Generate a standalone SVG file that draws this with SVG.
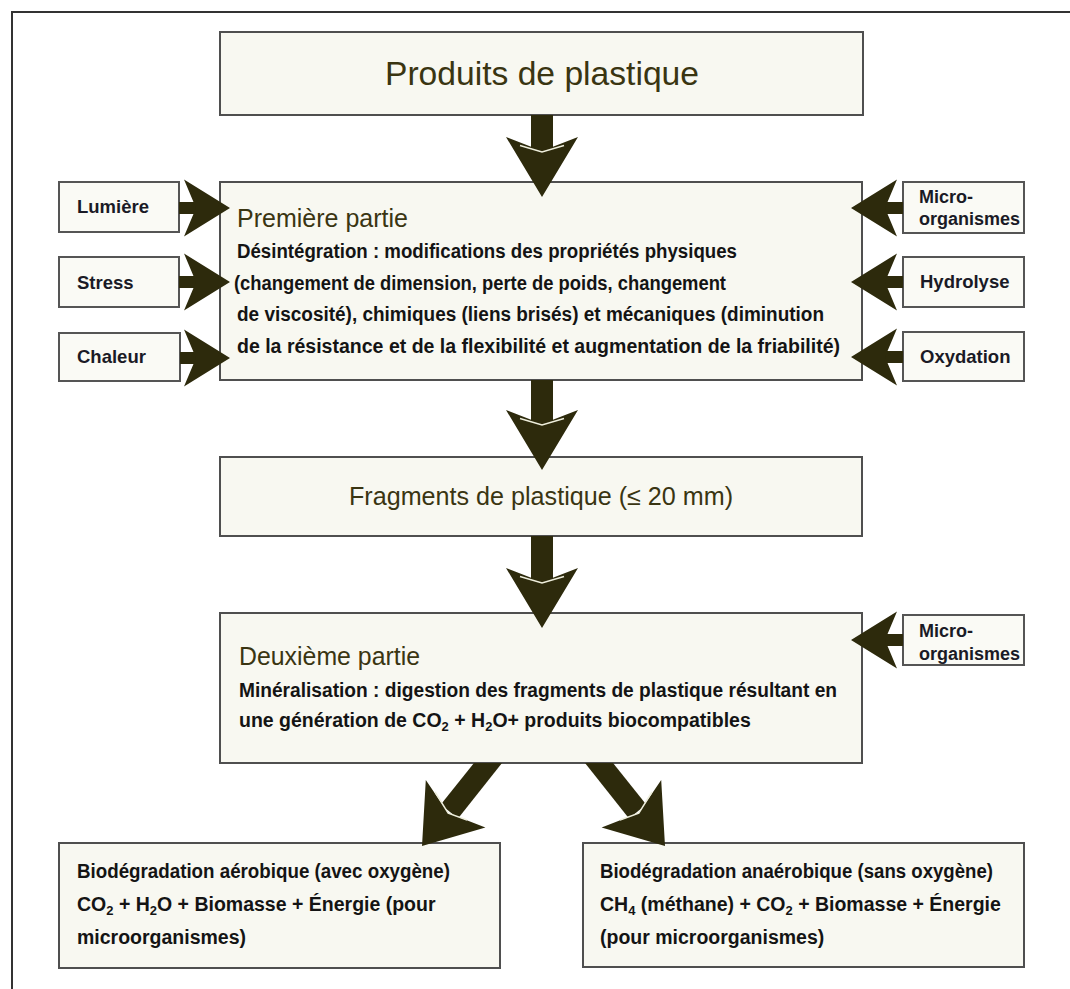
<svg xmlns="http://www.w3.org/2000/svg" xmlns:xlink="http://www.w3.org/1999/xlink" width="1070" height="989" viewBox="0 0 1070 989">
<style>
.box{fill:#f8f8f1;stroke:#4f4f4f;stroke-width:2}
.lbl{fill:#fafaf5;stroke:#555;stroke-width:2}
.ttl{font-family:"Liberation Sans",Arial,sans-serif;fill:#3a3512}
.b{font-family:"Liberation Sans",Arial,sans-serif;font-weight:bold;fill:#141414;font-size:19.5px}
.s{font-family:"Liberation Sans",Arial,sans-serif;font-weight:bold;fill:#1a1a26;font-size:18.5px}
.m{font-family:"Liberation Sans",Arial,sans-serif;font-weight:bold;fill:#1a1a26;font-size:18px}
.ar{fill:#2d2a0c}
.gl{fill:none;stroke:#eeeedc;stroke-width:1.5}
</style>
<defs>
<path id="vh" d="M-36,-60 L0,-46 L36,-60 L0,0 Z"/>
<path id="sh" d="M-46,-28.5 L-34,0 L-46,28.5 L0,0 Z"/>
</defs>
<rect width="1070" height="989" fill="#ffffff"/>
<path d="M12,989 L12,12 L1070,12" fill="none" stroke="#333" stroke-width="2"/>

<g id="produits">
<rect class="box" x="220" y="32" width="643" height="83"/>
<text class="ttl" x="542" y="85" font-size="34" text-anchor="middle" textLength="314" lengthAdjust="spacingAndGlyphs">Produits de plastique</text>
</g>

<g id="premiere">
<rect class="box" x="220" y="182" width="642" height="198"/>
<text class="ttl" x="237" y="227" font-size="25.5" textLength="171" lengthAdjust="spacingAndGlyphs">Première partie</text>
<text class="b" x="237" y="258" textLength="500" lengthAdjust="spacingAndGlyphs">Désintégration : modifications des propriétés physiques</text>
<text class="b" x="234" y="290" textLength="492" lengthAdjust="spacingAndGlyphs">(changement de dimension, perte de poids, changement</text>
<text class="b" x="237" y="321" textLength="587" lengthAdjust="spacingAndGlyphs">de viscosité), chimiques (liens brisés) et mécaniques (diminution</text>
<text class="b" x="237" y="353" textLength="603" lengthAdjust="spacingAndGlyphs">de la résistance et de la flexibilité et augmentation de la friabilité)</text>
</g>

<g id="lumiere">
<rect class="lbl" x="59" y="182" width="120" height="50"/>
<text class="s" x="77" y="213">Lumière</text>
</g>
<g id="stress">
<rect class="lbl" x="59" y="257" width="120" height="50"/>
<text class="s" x="77" y="289">Stress</text>
</g>
<g id="chaleur">
<rect class="lbl" x="59" y="333" width="121" height="48"/>
<text class="s" x="77" y="363">Chaleur</text>
</g>
<g id="microorganismes1">
<rect class="lbl" x="903" y="182" width="121" height="51"/>
<text class="m" x="919" y="203">Micro-</text>
<text class="m" x="919" y="225" textLength="101" lengthAdjust="spacingAndGlyphs">organismes</text>
</g>
<g id="hydrolyse">
<rect class="lbl" x="903" y="257" width="121" height="50"/>
<text class="s" x="920" y="288">Hydrolyse</text>
</g>
<g id="oxydation">
<rect class="lbl" x="903" y="332" width="121" height="49"/>
<text class="s" x="920" y="363">Oxydation</text>
</g>

<g id="fragments">
<rect class="box" x="220" y="457" width="642" height="79"/>
<text class="ttl" x="541" y="505" font-size="25.5" text-anchor="middle" textLength="384" lengthAdjust="spacingAndGlyphs">Fragments de plastique (≤ 20 mm)</text>
</g>

<g id="deuxieme">
<rect class="box" x="220" y="613" width="642" height="150"/>
<text class="ttl" x="239" y="665" font-size="25.5" textLength="181" lengthAdjust="spacingAndGlyphs">Deuxième partie</text>
<text class="b" x="239" y="697" textLength="598" lengthAdjust="spacingAndGlyphs">Minéralisation : digestion des fragments de plastique résultant en</text>
<text class="b" x="239" y="727">une génération de CO<tspan font-size="13" dy="4">2</tspan><tspan dy="-4"> + H</tspan><tspan font-size="13" dy="4">2</tspan><tspan dy="-4">O+ produits biocompatibles</tspan></text>
</g>
<g id="microorganismes2">
<rect class="lbl" x="903" y="615" width="121" height="50"/>
<text class="m" x="919" y="637">Micro-</text>
<text class="m" x="919" y="660" textLength="101" lengthAdjust="spacingAndGlyphs">organismes</text>
</g>

<g id="aerobie">
<rect class="box" x="59" y="843" width="441" height="125"/>
<text class="b" x="77" y="878" font-size="19" textLength="373" lengthAdjust="spacingAndGlyphs">Biodégradation aérobique (avec oxygène)</text>
<text class="b" x="77" y="911" font-size="19">CO<tspan font-size="13" dy="4">2</tspan><tspan dy="-4"> + H</tspan><tspan font-size="13" dy="4">2</tspan><tspan dy="-4">O + Biomasse + Énergie (pour</tspan></text>
<text class="b" x="77" y="944" font-size="19">microorganismes)</text>
</g>

<g id="anaerobie">
<rect class="box" x="583" y="843" width="441" height="124"/>
<text class="b" x="600" y="878" font-size="19" textLength="393" lengthAdjust="spacingAndGlyphs">Biodégradation anaérobique (sans oxygène)</text>
<text class="b" x="600" y="911" font-size="19">CH<tspan font-size="13" dy="4">4</tspan><tspan dy="-4"> (méthane) + CO</tspan><tspan font-size="13" dy="4">2</tspan><tspan dy="-4"> + Biomasse + Énergie</tspan></text>
<text class="b" x="600" y="944" font-size="19">(pour microorganismes)</text>
</g>

<g id="connectors">
<rect class="ar" x="531" y="115" width="22" height="38"/>
<use href="#vh" xlink:href="#vh" class="ar" transform="translate(542,197)"/>
<polyline class="gl" points="520,145.5 542,152 564,145.5"/>
<rect class="ar" x="531" y="380" width="22" height="46"/>
<use href="#vh" xlink:href="#vh" class="ar" transform="translate(542,470)"/>
<polyline class="gl" points="520,418.5 542,425 564,418.5"/>
<rect class="ar" x="531" y="536" width="22" height="48"/>
<use href="#vh" xlink:href="#vh" class="ar" transform="translate(542,628)"/>
<polyline class="gl" points="520,576.5 542,583 564,576.5"/>
<rect class="ar" x="179" y="202" width="20" height="12"/>
<use href="#sh" xlink:href="#sh" class="ar" transform="translate(230,208)"/>
<rect class="ar" x="179" y="276" width="20" height="12"/>
<use href="#sh" xlink:href="#sh" class="ar" transform="translate(230,282)"/>
<rect class="ar" x="180" y="352" width="19" height="12"/>
<use href="#sh" xlink:href="#sh" class="ar" transform="translate(230,358)"/>
<rect class="ar" x="883" y="202" width="20" height="12"/>
<use href="#sh" xlink:href="#sh" class="ar" transform="translate(851,208) scale(-1,1)"/>
<rect class="ar" x="883" y="276" width="20" height="12"/>
<use href="#sh" xlink:href="#sh" class="ar" transform="translate(851,282) scale(-1,1)"/>
<rect class="ar" x="883" y="351" width="20" height="12"/>
<use href="#sh" xlink:href="#sh" class="ar" transform="translate(851,357) scale(-1,1)"/>
<rect class="ar" x="883" y="634" width="20" height="12"/>
<use href="#sh" xlink:href="#sh" class="ar" transform="translate(851,640) scale(-1,1)"/>
<polygon class="ar" points="474,763 502,763 458,818.4 440.8,804.6"/>
<polygon class="ar" points="422,846 485.4,827.4 448.2,813.1 425.8,780"/>
<polyline class="gl" points="467,820 448.2,813.1 435,792"/>
<polygon class="ar" points="613,763 585,763 629,818.4 646.2,804.6"/>
<polygon class="ar" points="665,846 601.6,827.4 638.8,813.1 661.2,780"/>
<polyline class="gl" points="620,820 638.8,813.1 652,792"/>
</g>
</svg>
